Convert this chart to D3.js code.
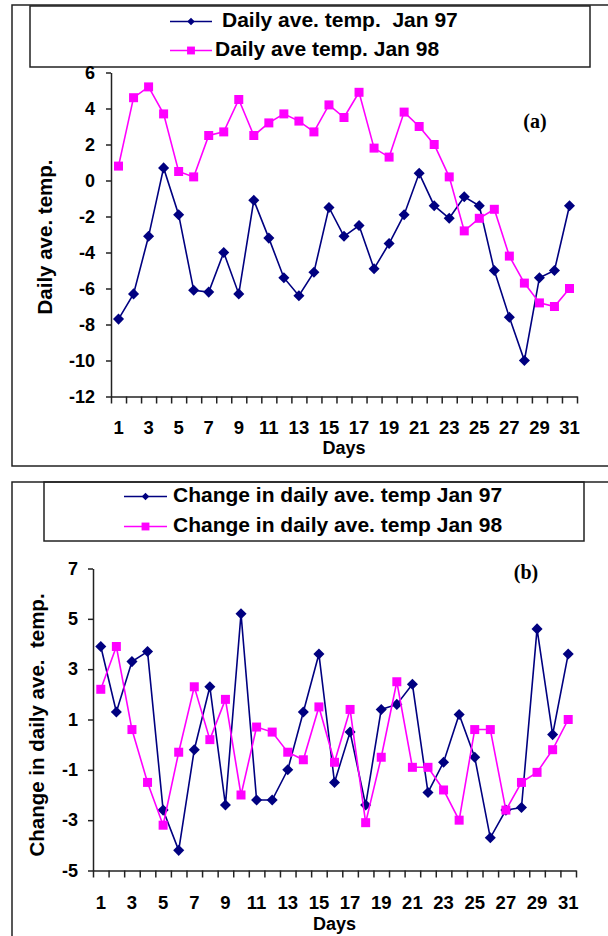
<!DOCTYPE html>
<html>
<head>
<meta charset="utf-8">
<title>Daily ave. temp. Jan 97 / Jan 98</title>
<script src="https://d3js.org/d3.v7.min.js"></script>
<style>
    body { margin: 0; background: white; }
    svg { display: block; font-family: "Liberation Sans", Arial, sans-serif; font-weight: bold; }
    .frame { fill: none; stroke: #222; stroke-width: 1.5px; }
    .axis path, .axis line { stroke: #222; stroke-width: 1.5px; }
    .axis text { fill: black; font-weight: bold; font-family: "Liberation Sans", Arial, sans-serif; }
    text { white-space: pre; }
</style>
</head>
<body>
<svg id="chart" width="608" height="936"></svg>
<script>
// data
let days = [1, 2, 3, 4, 5, 6, 7, 8, 9, 10, 11, 12, 13, 14, 15, 16,
            17, 18, 19, 20, 21, 22, 23, 24, 25, 26, 27, 28, 29, 30, 31]
let dayLabels = [1, 3, 5, 7, 9, 11, 13, 15, 17, 19, 21, 23, 25, 27, 29, 31]

let temp97 = [-7.7, -6.3, -3.1, 0.7, -1.9, -6.1, -6.2, -4.0, -6.3, -1.1, -3.2, -5.4, -6.4, -5.1, -1.5, -3.1,
              -2.5, -4.9, -3.5, -1.9, 0.4, -1.4, -2.1, -0.9, -1.4, -5.0, -7.6, -10.0, -5.4, -5.0, -1.4]
let temp98 = [0.8, 4.6, 5.2, 3.7, 0.5, 0.2, 2.5, 2.7, 4.5, 2.5, 3.2, 3.7, 3.3, 2.7, 4.2, 3.5,
              4.9, 1.8, 1.3, 3.8, 3.0, 2.0, 0.2, -2.8, -2.1, -1.6, -4.2, -5.7, -6.8, -7.0, -6.0]

let change97 = [3.9, 1.3, 3.3, 3.7, -2.6, -4.2, -0.2, 2.3, -2.4, 5.2, -2.2, -2.2, -1.0, 1.3, 3.6, -1.5,
                0.5, -2.4, 1.4, 1.6, 2.4, -1.9, -0.7, 1.2, -0.5, -3.7, -2.6, -2.5, 4.6, 0.4, 3.6]
let change98 = [2.2, 3.9, 0.6, -1.5, -3.2, -0.3, 2.3, 0.2, 1.8, -2.0, 0.7, 0.5, -0.3, -0.6, 1.5, -0.7,
                1.4, -3.1, -0.5, 2.5, -0.9, -0.9, -1.8, -3.0, 0.6, 0.6, -2.6, -1.5, -1.1, -0.2, 1.0]

let ticksA = [-12, -10, -8, -6, -4, -2, 0, 2, 4, 6]
let ticksB = [-5, -3, -1, 1, 3, 5, 7]

let navy = "#000080"
let pink = "#ff00ff"

let svg = d3.select("#chart")
svg.append("rect").attr("width", 608).attr("height", 936).attr("fill", "white")

let panels = [
    {
        frame: [12, 5, 620, 461],
        legendBox: [30, 6, 560, 61],
        legendLine: [170, 212],
        legendBase: [27, 56],
        legendTextX: [222, 215],
        series: [
            { name: "Daily ave. temp.  Jan 97", values: temp97, color: navy, shape: "diamond" },
            { name: "Daily ave temp. Jan 98", values: temp98, color: pink, shape: "square" }
        ],
        xRange: [111, 577],
        yDomain: [-12, 6],
        yRange: [396.5, 72.5],
        yTicks: ticksA,
        yPad: 11,
        xPad: 24,
        yTitle: "Daily ave. temp.",
        yTitlePos: [52, 237],
        daysBase: 454,
        tag: "(a)",
        tagPos: [535, 128]
    },
    {
        frame: [12, 482, 620, 470],
        legendBox: [44, 482, 540, 59],
        legendLine: [124, 167],
        legendBase: [502, 532],
        legendTextX: [173, 173],
        series: [
            { name: "Change in daily ave. temp Jan 97", values: change97, color: navy, shape: "diamond" },
            { name: "Change in daily ave. temp Jan 98", values: change98, color: pink, shape: "square" }
        ],
        xRange: [93, 576],
        yDomain: [-5, 7],
        yRange: [870.5, 568.5],
        yTicks: ticksB,
        yPad: 10,
        xPad: 25,
        yTitle: "Change in daily ave.  temp.",
        yTitlePos: [44, 725],
        daysBase: 930,
        tag: "(b)",
        tagPos: [526, 579]
    }
]

function symbolFor(shape, big) {
    if (shape == "diamond") return d3.symbol().type(d3.symbolDiamond2).size(big ? 78 : 36)
    return d3.symbol().type(d3.symbolSquare).size(big ? 81 : 62)
}

function drawPanel(p) {
    let g = svg.append("g")

    g.append("rect").attr("class", "frame")
        .attr("x", p.frame[0]).attr("y", p.frame[1])
        .attr("width", p.frame[2]).attr("height", p.frame[3])

    // legend
    g.append("rect").attr("class", "frame")
        .attr("x", p.legendBox[0]).attr("y", p.legendBox[1])
        .attr("width", p.legendBox[2]).attr("height", p.legendBox[3])

    p.series.forEach(function (s, i) {
        let my = p.legendBase[i] - 5.5
        g.append("line")
            .attr("x1", p.legendLine[0]).attr("x2", p.legendLine[1])
            .attr("y1", my).attr("y2", my)
            .attr("stroke", s.color).attr("stroke-width", 1.5)
        g.append("path")
            .attr("d", symbolFor(s.shape, false)())
            .attr("transform", "translate(" + (p.legendLine[0] + p.legendLine[1]) / 2 + "," + my + ")")
            .attr("fill", s.color)
        g.append("text")
            .attr("x", p.legendTextX[i]).attr("y", p.legendBase[i])
            .attr("font-size", 21)
            .text(s.name)
    })

    let x = d3.scaleBand().domain(days).range(p.xRange)
    let y = d3.scaleLinear().domain(p.yDomain).range(p.yRange)
    let cx = d => x(d) + x.bandwidth() / 2

    // x axis: tick marks between categories, labels on odd days
    let edges = d3.scaleLinear().domain([0, days.length]).range(p.xRange)
    g.append("g").attr("class", "axis")
        .attr("transform", "translate(0," + p.yRange[0] + ")")
        .call(d3.axisBottom(edges).ticks(days.length).tickSize(7).tickSizeOuter(0).tickFormat(""))

    let xl = g.append("g").attr("class", "axis")
        .attr("transform", "translate(0," + p.yRange[0] + ")")
        .call(d3.axisBottom(x).tickValues(dayLabels).tickSize(0).tickPadding(p.xPad))
    xl.select(".domain").remove()
    xl.selectAll("text").attr("font-size", 18.5)

    let yl = g.append("g").attr("class", "axis")
        .attr("transform", "translate(" + p.xRange[0] + ",0)")
        .call(d3.axisLeft(y).tickValues(p.yTicks).tickSize(5).tickSizeOuter(0)
            .tickPadding(p.yPad).tickFormat(d => String(d)))
    yl.selectAll("text").attr("font-size", 18)

    // series
    p.series.forEach(function (s) {
        let line = d3.line().x((v, i) => cx(days[i])).y(v => y(v))
        g.append("path")
            .attr("d", line(s.values))
            .attr("fill", "none")
            .attr("stroke", s.color)
            .attr("stroke-width", 1.6)
        g.selectAll(null)
            .data(s.values)
            .enter()
            .append("path")
            .attr("d", symbolFor(s.shape, true)())
            .attr("transform", (v, i) => "translate(" + cx(days[i]) + "," + y(v) + ")")
            .attr("fill", s.color)
    })

    g.append("text")
        .attr("transform", "translate(" + p.yTitlePos[0] + "," + p.yTitlePos[1] + ") rotate(-90)")
        .attr("text-anchor", "middle")
        .attr("font-size", 20.5)
        .text(p.yTitle)

    g.append("text")
        .attr("x", (p.xRange[0] + p.xRange[1]) / 2).attr("y", p.daysBase)
        .attr("text-anchor", "middle")
        .attr("font-size", 18)
        .text("Days")

    g.append("text")
        .attr("x", p.tagPos[0]).attr("y", p.tagPos[1])
        .attr("text-anchor", "middle")
        .attr("font-family", "'Liberation Serif', 'Times New Roman', serif")
        .attr("font-size", 20)
        .text(p.tag)
}

panels.forEach(drawPanel)
</script>
</body>
</html>
